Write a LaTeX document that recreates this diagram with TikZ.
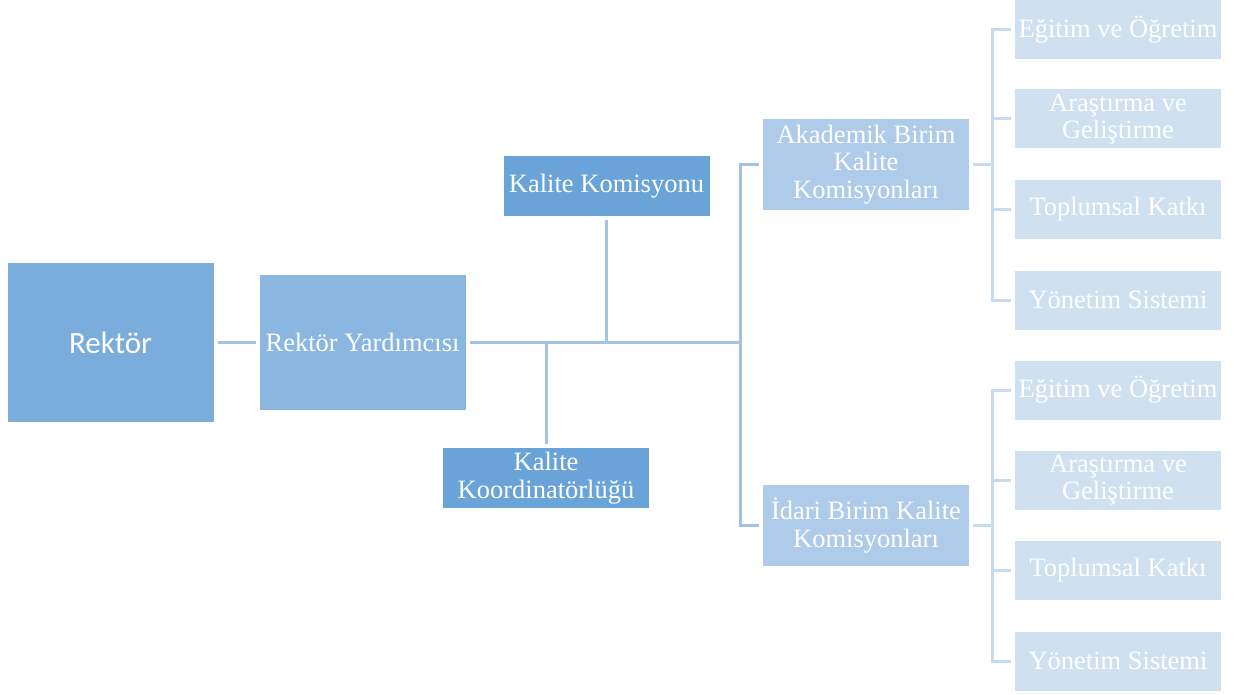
\documentclass[tikz,border=0pt]{standalone}
\usepackage{fontspec}
\setmainfont{Liberation Serif}
\newfontfamily\calibri{Carlito}
\definecolor{boxA}{HTML}{7AADDC}
\definecolor{boxB}{HTML}{8AB6E0}
\definecolor{boxC}{HTML}{6AA3D8}
\definecolor{boxD}{HTML}{AECBE9}
\definecolor{boxE}{HTML}{CFE0F1}
\definecolor{lineA}{HTML}{A3C2E6}
\definecolor{lineB}{HTML}{C6DAF0}
\begin{document}
\begin{tikzpicture}[x=1pt,y=-1pt,
  box/.style={draw=none,text=white,align=center,inner sep=0pt,outer sep=4pt,
    minimum width=206pt,font=\fontsize{26.5}{27.5}\selectfont},
  conn/.style={draw=lineA,line width=3pt},
  lconn/.style={draw=lineB,line width=3pt}]
\useasboundingbox (0,0) rectangle (1234,695);
\node[box,fill=boxA,minimum height=159pt,font=\calibri\fontsize{31}{33}\selectfont] (rektor) at (110.5,342.5) {Rektör};
\node[box,fill=boxB,minimum height=135pt] (ryard) at (362.5,342.5) {Rektör Yardımcısı};
\node[box,fill=boxC,minimum height=60pt] (kkom) at (606.5,186) {Kalite Komisyonu};
\node[box,fill=boxC,minimum height=60pt] (kkoord) at (546,478) {Kalite\\Koordinatörlüğü};
\node[box,fill=boxD,minimum height=91pt] (akad) at (866,164.5) {Akademik Birim\\Kalite\\Komisyonları};
\node[box,fill=boxD,minimum height=81pt] (idari) at (866,525.5) {İdari Birim Kalite\\Komisyonları};
\foreach \n/\y in {1/29.5,2/119,3/209.5,4/300}{
  \node[box,fill=boxE,minimum height=59pt] (a\n) at (1118,\y) {};}
\foreach \n/\y in {1/390,2/480,3/570.5,4/661}{
  \node[box,fill=boxE,minimum height=59pt] (b\n) at (1118,\y) {};}
\foreach \s in {a,b}{
  \node at (\s1) [text=white,font=\fontsize{26.5}{27.5}\selectfont] {Eğitim ve Öğretim};
  \node at (\s2) [text=white,align=center,font=\fontsize{26.5}{27.5}\selectfont] {Araştırma ve\\Geliştirme};
  \node at (\s3) [text=white,font=\fontsize{26.5}{27.5}\selectfont] {Toplumsal Katkı};
  \node at (\s4) [text=white,font=\fontsize{26.5}{27.5}\selectfont] {Yönetim Sistemi};}
\coordinate (hub) at (740,342.5);
\coordinate (hubA) at (992,164.5);
\coordinate (hubB) at (992,525.5);
\draw[conn] (rektor) -- (ryard);
\draw[conn] (ryard) -- (hub);
\draw[conn] (kkom.south) -- (kkom.south |- hub);
\draw[conn] (kkoord.north) -- (kkoord.north |- hub);
\draw[conn] (akad.west) -| (hub) |- (idari.west);
\draw[lconn] (akad) -- (hubA);
\draw[lconn] (idari) -- (hubB);
\foreach \n in {1,...,4}{
  \draw[lconn] (hubA) |- (a\n.west);
  \draw[lconn] (hubB) |- (b\n.west);}
\end{tikzpicture}
\end{document}
